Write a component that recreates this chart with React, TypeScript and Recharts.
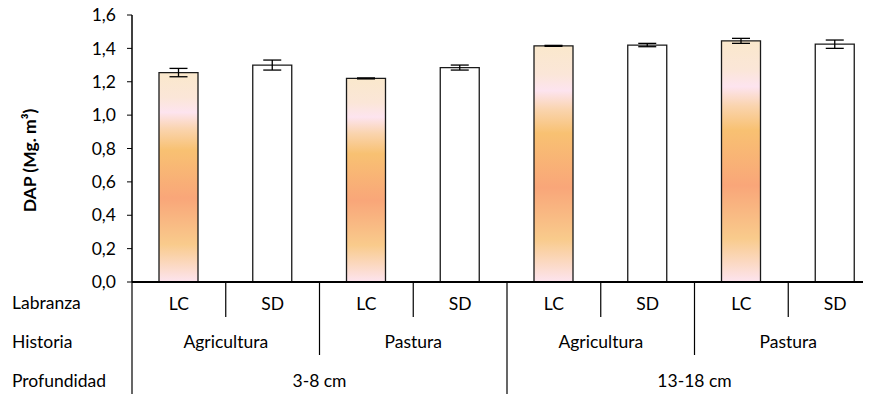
import { BarChart, Bar, XAxis, YAxis, ErrorBar, Cell, Label } from 'recharts';

const labranza = ['LC', 'SD', 'LC', 'SD', 'LC', 'SD', 'LC', 'SD'];
const historia = ['Agricultura', 'Agricultura', 'Pastura', 'Pastura', 'Agricultura', 'Agricultura', 'Pastura', 'Pastura'];
const profundidad = ['3-8 cm', '3-8 cm', '3-8 cm', '3-8 cm', '13-18 cm', '13-18 cm', '13-18 cm', '13-18 cm'];
const dap = [1.255, 1.3, 1.22, 1.285, 1.415, 1.42, 1.445, 1.425];
const errores = [0.025, 0.03, 0.003, 0.015, 0.003, 0.01, 0.015, 0.025];
const yTicks = [0, 0.2, 0.4, 0.6, 0.8, 1.0, 1.2, 1.4, 1.6];
const rowTitles = ['Labranza', 'Historia', 'Profundidad'];

const data = labranza.map((lab, i) => ({
  lab,
  hist: historia[i],
  prof: profundidad[i],
  dap: dap[i],
  err: errores[i],
}));

const FONT = 'Lato, "Liberation Sans", sans-serif';
const FS = 17.5;

function MultiTick(props: any) {
  const { x, y, payload, index } = props;
  const half = payload.offset ?? 0;
  const left = x - half;
  const right = x + half;
  const last = index === data.length - 1;
  const histEnd = !last && data[index + 1].hist !== data[index].hist;
  const profEnd = !last && data[index + 1].prof !== data[index].prof;
  const divBottom = profEnd ? y + 112 : histEnd ? y + 73 : y + 35;

  // how many categories before this one share the same group
  let histSpan = 0;
  while (index - histSpan - 1 >= 0 && data[index - histSpan - 1].hist === data[index].hist) histSpan++;
  let profSpan = 0;
  while (index - profSpan - 1 >= 0 && data[index - profSpan - 1].prof === data[index].prof) profSpan++;

  return (
    <g fontFamily={FONT} fontSize={FS} fill="#000">
      {index === 0 && (
        <>
          <line x1={left} y1={y} x2={left} y2={y + 112} stroke="#000" strokeWidth={1.2} />
          {rowTitles.map((t, k) => (
            <text key={t} x={left - 120} y={y + 27 + k * 39} textAnchor="start" fill="#000">{t}</text>
          ))}
        </>
      )}
      <text x={x} y={y + 28} textAnchor="middle" fill="#000">{payload.value}</text>
      {!last && <line x1={right} y1={y} x2={right} y2={divBottom} stroke="#000" strokeWidth={1.2} />}
      {(last || histEnd) && (
        <text x={x - histSpan * half} y={y + 66} textAnchor="middle" fill="#000">{data[index].hist}</text>
      )}
      {(last || profEnd) && (
        <text x={x - profSpan * half} y={y + 105} textAnchor="middle" fill="#000">{data[index].prof}</text>
      )}
    </g>
  );
}

function YTitle(props: any) {
  const vb = props.viewBox || { x: 0, y: 0, width: 0, height: 0 };
  const cx = vb.x + 36;
  const cy = vb.y + vb.height / 2 + 12;
  return (
    <text
      x={cx}
      y={cy}
      transform={`rotate(-90 ${cx} ${cy})`}
      textAnchor="middle"
      fontFamily={FONT}
      fontSize={FS}
      fontWeight="bold"
      fill="#000"
    >
      DAP (Mg. m³)
    </text>
  );
}

export default function App() {
  return (
    <div style={{ margin: '-8px 0 0 -8px', width: 871, height: 394, overflow: 'hidden', background: '#fff' }}>
      <BarChart width={890} height={394} data={data} margin={{ top: 15, right: 8, left: 0, bottom: 0 }}>
        <defs>
          <linearGradient id="lcGrad" x1="0" y1="0" x2="0" y2="1">
            <stop offset="0%" stopColor="#fae8cc" />
            <stop offset="12%" stopColor="#fbe6d8" />
            <stop offset="19%" stopColor="#fde4ef" />
            <stop offset="27%" stopColor="#fad4ae" />
            <stop offset="37%" stopColor="#f8c172" />
            <stop offset="60%" stopColor="#f9a679" />
            <stop offset="82%" stopColor="#f9cb8c" />
            <stop offset="100%" stopColor="#fde4ef" />
          </linearGradient>
        </defs>
        <YAxis
          width={132}
          domain={[0, 1.6]}
          ticks={yTicks}
          interval={0}
          tickSize={5}
          tickMargin={11}
          axisLine={{ stroke: '#000', strokeWidth: 1.5 }}
          tickLine={{ stroke: '#000', strokeWidth: 1 }}
          tick={{ fill: '#000', fontFamily: FONT, fontSize: FS }}
          tickFormatter={(v: number) => v.toFixed(1).replace('.', ',')}
        >
          <Label content={<YTitle />} />
        </YAxis>
        <XAxis
          dataKey="lab"
          height={112}
          interval={0}
          tickLine={false}
          tickSize={0}
          tickMargin={0}
          axisLine={{ stroke: '#000', strokeWidth: 2 }}
          tick={<MultiTick />}
        />
        <Bar dataKey="dap" barSize={39} stroke="#1a1a1a" strokeWidth={1.3} isAnimationActive={false}>
          {data.map((d, i) => (
            <Cell key={i} fill={d.lab === 'LC' ? 'url(#lcGrad)' : '#ffffff'} />
          ))}
          <ErrorBar dataKey="err" width={9} stroke="#000" strokeWidth={1.3} direction="y" />
        </Bar>
      </BarChart>
    </div>
  );
}
